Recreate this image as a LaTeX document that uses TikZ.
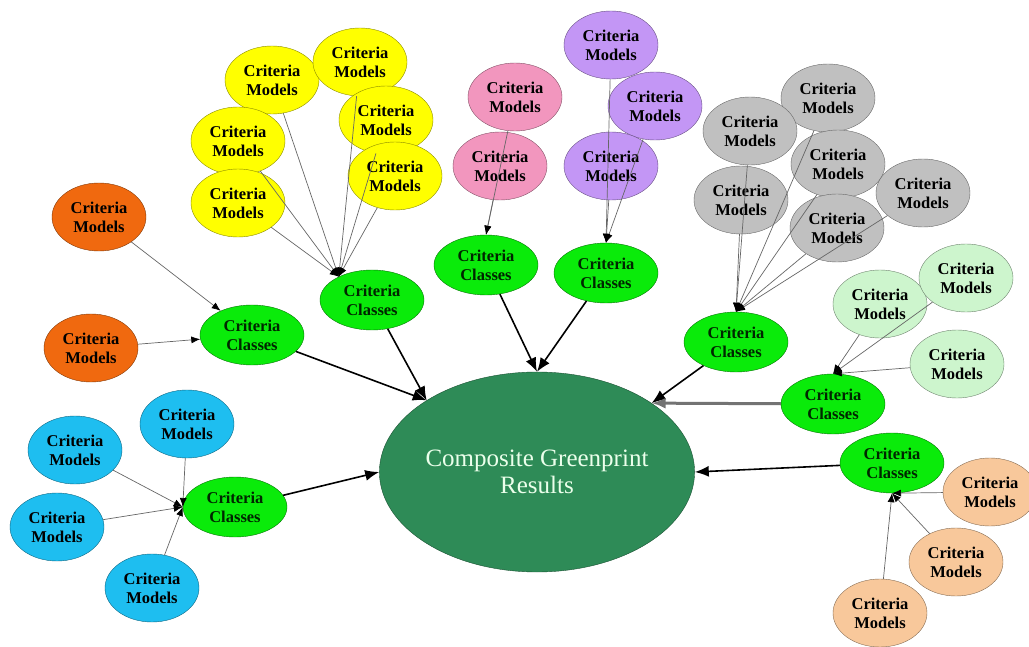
\documentclass[tikz,border=0pt]{standalone}
\usepackage{fontspec}
\setmainfont{Liberation Serif}
\usetikzlibrary{shapes.geometric, arrows.meta}
\definecolor{modelyellow}{RGB}{255, 255, 0}
\definecolor{modelorange}{RGB}{240, 105, 15}
\definecolor{modelpink}{RGB}{242, 150, 190}
\definecolor{modelpurple}{RGB}{195, 150, 245}
\definecolor{modelgray}{RGB}{192, 192, 192}
\definecolor{modelmint}{RGB}{205, 245, 205}
\definecolor{modelpeach}{RGB}{248, 200, 155}
\definecolor{modelblue}{RGB}{30, 190, 240}
\definecolor{classgreen}{RGB}{10, 235, 10}
\definecolor{resultgreen}{RGB}{46, 139, 87}

\begin{document}
\begin{tikzpicture}[x=1pt, y=-1pt,
    model/.style={ellipse, draw=#1!55!black, fill=#1, text=black,
                  font=\bfseries\fontsize{16.5}{19}\selectfont, align=center,
                  inner sep=0pt, minimum width=94pt, minimum height=68pt},
    class/.style={ellipse, draw=classgreen!50!black, fill=classgreen,
                  text=black!85!green, font=\bfseries\fontsize{16.5}{19}\selectfont,
                  align=center, inner sep=0pt, minimum width=104pt, minimum height=60pt},
    result/.style={ellipse, draw=resultgreen!60!black, fill=resultgreen,
                   text=green!8, font=\fontsize{25}{27}\selectfont, align=center,
                   inner sep=0pt, minimum width=310pt, minimum height=200pt},
    link/.style={draw=black!60, line width=0.7pt, -{Latex[color=black, length=9pt, width=7pt]}},
    arrow/.style={draw=black, line width=1.6pt, -{Latex[length=14pt, width=11pt]}}
]
    \useasboundingbox (0,0) rectangle (1029,647);

    % Composite result
    \node[result] (comp) at (537,472) {Composite Greenprint\\Results};

    % Criteria classes
    \node[class] (OC) at (252,335) {Criteria\\Classes};
    \node[class] (YC) at (372,300) {Criteria\\Classes};
    \node[class] (PC) at (486,265) {Criteria\\Classes};
    \node[class] (UC) at (606,273) {Criteria\\Classes};
    \node[class] (GC) at (736,342) {Criteria\\Classes};
    \node[class] (LC) at (833,404) {Criteria\\Classes};
    \node[class] (RC) at (892,463) {Criteria\\Classes};
    \node[class] (BC) at (235,507) {Criteria\\Classes};

    % Orange models
    \node[model=modelorange] (O1) at (99,217) {Criteria\\Models};
    \node[model=modelorange] (O2) at (91,348) {Criteria\\Models};

    % Yellow models
    \node[model=modelyellow] (Y1) at (272,80) {Criteria\\Models};
    \node[model=modelyellow] (Y2) at (360,62) {Criteria\\Models};
    \node[model=modelyellow] (Y4) at (238,141) {Criteria\\Models};
    \node[model=modelyellow] (Y5) at (238,203) {Criteria\\Models};
    \node[model=modelyellow] (Y3) at (386,120) {Criteria\\Models};
    \node[model=modelyellow] (Y6) at (395,176) {Criteria\\Models};

    % Pink models
    \node[model=modelpink] (P1) at (515,97) {Criteria\\Models};
    \node[model=modelpink] (P2) at (500,166) {Criteria\\Models};

    % Purple models
    \node[model=modelpurple] (U1) at (611,45) {Criteria\\Models};
    \node[model=modelpurple] (U2) at (655,106) {Criteria\\Models};
    \node[model=modelpurple] (U3) at (611,166) {Criteria\\Models};

    % Gray models
    \node[model=modelgray] (G1) at (828,98) {Criteria\\Models};
    \node[model=modelgray] (G2) at (750,131) {Criteria\\Models};
    \node[model=modelgray] (G3) at (838,164) {Criteria\\Models};
    \node[model=modelgray] (G4) at (741,200) {Criteria\\Models};
    \node[model=modelgray] (G6) at (923,193) {Criteria\\Models};
    \node[model=modelgray] (G5) at (837,228) {Criteria\\Models};

    % Mint models
    \node[model=modelmint] (L1) at (880,304) {Criteria\\Models};
    \node[model=modelmint] (L2) at (966,278) {Criteria\\Models};
    \node[model=modelmint] (L3) at (957,364) {Criteria\\Models};

    % Peach models
    \node[model=modelpeach] (R1) at (990,492) {Criteria\\Models};
    \node[model=modelpeach] (R2) at (956,562) {Criteria\\Models};
    \node[model=modelpeach] (R3) at (880,613) {Criteria\\Models};

    % Blue models
    \node[model=modelblue] (B1) at (75,450) {Criteria\\Models};
    \node[model=modelblue] (B2) at (187,424) {Criteria\\Models};
    \node[model=modelblue] (B3) at (57,527) {Criteria\\Models};
    \node[model=modelblue] (B4) at (152,588) {Criteria\\Models};

    % Models to classes
    \draw[link] (O1) -- (OC);
    \draw[link] (O2) -- (OC);
    \draw[link] (Y1) -- (YC.145);
    \draw[link] (Y2) -- (YC.145);
    \draw[link] (Y3) -- (YC.145);
    \draw[link] (Y4) -- (YC.145);
    \draw[link] (Y5) -- (YC.145);
    \draw[link] (Y6) -- (YC.145);
    \draw[link] (P1) -- (PC.north);
    \draw[link] (P2) -- (PC.north);
    \draw[link] (U1) -- (UC.north);
    \draw[link] (U2) -- (UC.north);
    \draw[link] (U3) -- (UC.north);
    \draw[link] (G1) -- (GC.north);
    \draw[link] (G2) -- (GC.north);
    \draw[link] (G3) -- (GC.north);
    \draw[link] (G4) -- (GC.north);
    \draw[link] (G5) -- (GC.north);
    \draw[link] (G6) -- (GC.north);
    \draw[link] (L1) -- (LC.north);
    \draw[link] (L2) -- (LC.north);
    \draw[link] (L3) -- (LC.north);
    \draw[link] (R1) -- (RC.south);
    \draw[link] (R2) -- (RC.south);
    \draw[link] (R3) -- (RC.south);
    \draw[link] (B1) -- (BC.west);
    \draw[link] (B2) -- (BC.west);
    \draw[link] (B3) -- (BC.west);
    \draw[link] (B4) -- (BC.west);

    % Classes to composite
    \draw[arrow] (OC) -- (comp.147);
    \draw[arrow] (YC) -- (comp.147);
    \draw[arrow] (PC) -- (comp.north);
    \draw[arrow] (UC) -- (comp.north);
    \draw[arrow] (GC) -- (comp.31);
    \draw[arrow, draw=black!55, line width=3pt] (LC) -- (comp.31);
    \draw[arrow] (RC) -- (comp.east);
    \draw[arrow] (BC) -- (comp.west);

\end{tikzpicture}
\end{document}
